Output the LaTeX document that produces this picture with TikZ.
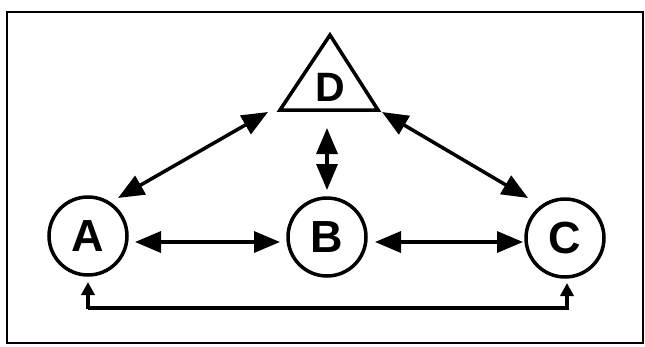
\documentclass[tikz,border=0pt]{standalone}
\usepackage{fontspec}
\setmainfont{Liberation Sans}
\usetikzlibrary{arrows.meta}
\begin{document}
\begin{tikzpicture}[x=1pt,y=-1pt,
  circ/.style={circle,draw,line width=3.5pt,minimum size=78pt,inner sep=0pt,font=\fontsize{45}{45}\selectfont\bfseries},
  arr/.style={line width=3.5pt,{Triangle[length=26pt,width=21pt]}-{Triangle[length=26pt,width=21pt]}},
  small/.style={line width=3.5pt,-{Triangle[length=13pt,width=13pt]}}]
\useasboundingbox (0,0) rectangle (645,346);
\draw[line width=2pt] (7,12) rectangle (643,343);
\node[circ] (A) at (88,236) {A};
\node[circ] (B) at (327,237) {B};
\node[circ] (C) at (565,238) {C};
\node[font=\fontsize{41}{41}\selectfont\bfseries,inner sep=0pt] (D) at (330,87) {D};
\draw[line width=3.5pt,line join=miter] ([shift={(0,-52)}]D.center) -- ([shift={(-50,23)}]D.center) -- ([shift={(48,23)}]D.center) -- cycle;
\draw[arr] ([shift={(30,-38)}]A.center) -- ([shift={(-62,25)}]D.center);
\draw[arr] ([shift={(52,25)}]D.center) -- ([shift={(-37,-40)}]C.center);
\draw[arr] ([shift={(-3,41)}]D.center) -- ([shift={(0,-47)}]B.center);
\draw[arr] ([shift={(47,6)}]A.center) -- ([shift={(-47,5)}]B.center);
\draw[arr] ([shift={(48,5)}]B.center) -- ([shift={(-42,4)}]C.center);
\coordinate (bl) at (88,308);
\coordinate (br) at (567,308);
\draw[small,line join=miter] (bl) -- (br) -- ([shift={(2,45)}]C.center);
\draw[small] ([shift={(0,1)}]bl) -- ([shift={(0,46)}]A.center);
\end{tikzpicture}
\end{document}
